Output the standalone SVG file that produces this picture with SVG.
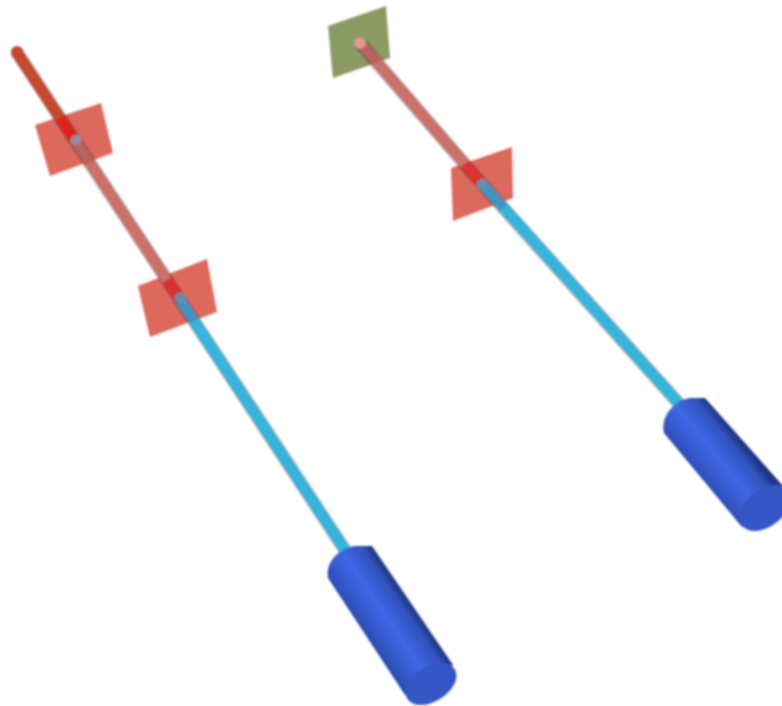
<svg xmlns="http://www.w3.org/2000/svg" width="782" height="706" viewBox="0 0 782 706">
<defs>
<linearGradient id="cylL" gradientUnits="userSpaceOnUse" x1="328" y1="578" x2="372" y2="548">
<stop offset="0" stop-color="#2b4db0"/><stop offset=".2" stop-color="#3659cc"/><stop offset=".5" stop-color="#3f68e6"/><stop offset=".85" stop-color="#3052bc"/><stop offset="1" stop-color="#1f3684"/>
</linearGradient>
<linearGradient id="cylR" gradientUnits="userSpaceOnUse" x1="663" y1="432" x2="705" y2="398">
<stop offset="0" stop-color="#2b4db0"/><stop offset=".2" stop-color="#3659cc"/><stop offset=".5" stop-color="#3f68e6"/><stop offset=".85" stop-color="#3052bc"/><stop offset="1" stop-color="#1f3684"/>
</linearGradient>
<filter id="soft" x="-5%" y="-5%" width="110%" height="110%"><feGaussianBlur stdDeviation="0.8"/></filter>
<style>
.q{fill:#dc695b}
.r{fill:none;stroke-linecap:butt}
.e{fill:none;stroke-linecap:butt;stroke:#3a2a2a;stroke-opacity:.5;stroke-width:13}
.cap{fill:#3557c6}
.disc{fill:#9a8a9e}
</style>
</defs>
<rect width="782" height="706" fill="#ffffff"/>
<g id="left-assembly" filter="url(#soft)">
<g id="left-plate-1"><polygon class="q" points="35,125 101,103 113,153 50,176"/></g>
<g id="left-plate-2"><polygon class="q" points="138,286 207,259 217,312 150,337"/></g>
<g id="left-rod">
<path class="e" d="M16,51L345,550"/>
<g class="r" stroke-width="10.500">
<path stroke="#c5482a" d="M16,51L60,118"/>
<path stroke="#df2318" d="M60,118L76,142"/>
<path stroke="#bb625e" d="M76,142L90,163"/>
<path stroke="#ca716b" d="M90,163L167,280"/>
<path stroke="#dc2f33" d="M167,280L181,301"/>
<path stroke="#3f94c0" d="M181,301L194,321"/>
<path stroke="#35b4dc" d="M194,321L345,550"/>
</g>
<circle cx="17" cy="52" r="6" fill="#c5482a"/>
<ellipse class="disc" cx="76" cy="140" rx="6" ry="5" transform="rotate(-34 76 140)"/>
<ellipse cx="180" cy="298" rx="6" ry="5" transform="rotate(-34 180 298)" fill="#6b8cab"/>
</g>
<g id="left-cylinder">
<path fill="url(#cylL)" d="M328,578C325,562 340,547 356,546L372,546L453,665L405,695Z"/>
<ellipse class="cap" cx="431" cy="684" rx="28" ry="17.500" transform="rotate(-32 431 684)"/>
</g>
</g>
<g id="right-assembly" filter="url(#soft)">
<g id="right-plate-1"><polygon fill="#8a9a62" points="328,26 386,6 390,58 333,78"/></g>
<g id="right-plate-2"><polygon class="q" points="451,168 512,147 513,198 453,221"/></g>
<g id="right-rod">
<path class="e" d="M360,43L482,184L682,407"/>
<g class="r" stroke-width="10.500">
<path stroke="#bb625e" d="M360,43L377,62"/>
<path stroke="#ca716b" d="M377,62L465,164"/>
<path stroke="#dc3232" d="M465,164L482,184"/>
<path stroke="#3f94c0" d="M482,184L504,208"/>
<path stroke="#35b4dc" d="M504,208L682,407"/>
</g>
<ellipse cx="360" cy="43" rx="6" ry="5.500" fill="#e29a8c"/>
<ellipse cx="482" cy="184" rx="6" ry="5" transform="rotate(-40 482 184)" fill="#6b8cab"/>
</g>
<g id="right-cylinder">
<path fill="url(#cylR)" d="M664,433C660,416 675,400 690,398L705,398L792,496L742,527Z"/>
<ellipse class="cap" cx="765" cy="508" rx="29" ry="18.500" transform="rotate(-38 765 508)"/>
</g>
</g>
</svg>
